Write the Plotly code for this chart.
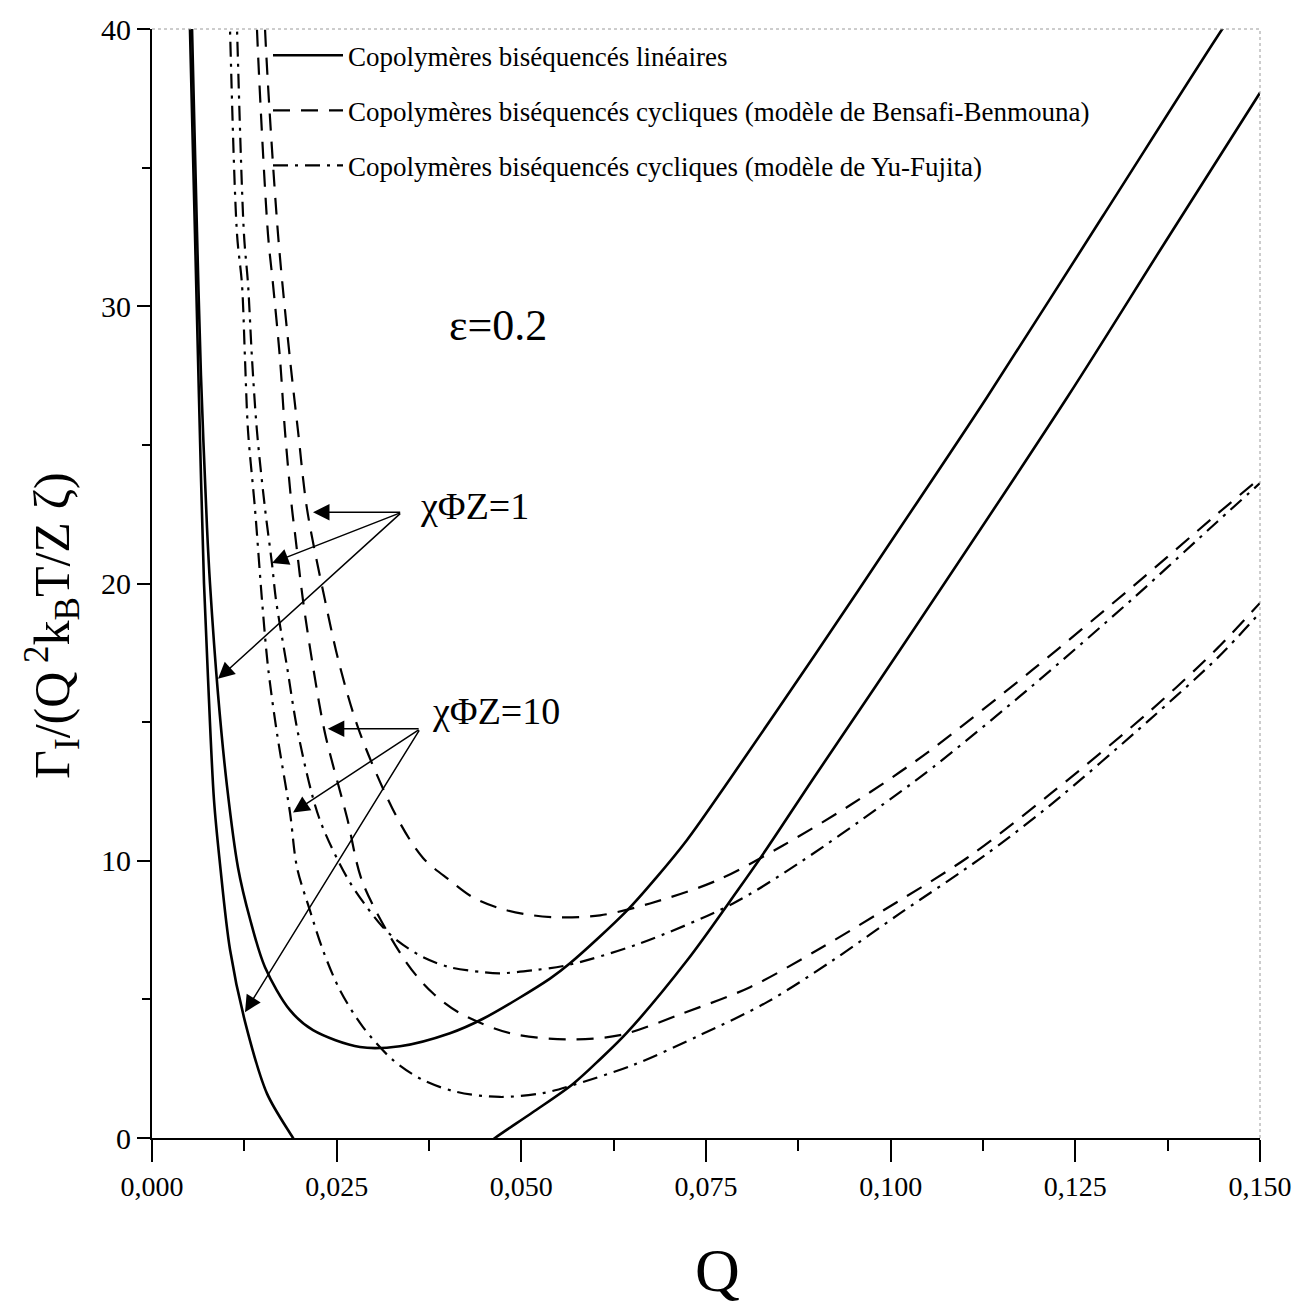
import plotly.graph_objects as go

# ---------------- data ----------------
# Linear diblock copolymers (solid)
q_lin_1 = [0.0050, 0.00542, 0.00609, 0.00663, 0.00745, 0.00785, 0.00894, 0.01015, 0.01164,
           0.01327, 0.01530, 0.01868, 0.02180, 0.02816, 0.03357, 0.04034, 0.04481, 0.05388,
           0.05659, 0.06430, 0.06830, 0.07243, 0.07825, 0.08980, 0.10126, 0.11300, 0.12860,
           0.14490, 0.14750]
g_lin_1 = [44.5, 40.0, 32.7, 27.5, 22.0, 20.0, 16.0, 12.7, 9.76,
           7.9, 6.16, 4.61, 3.89, 3.28, 3.31, 3.78, 4.3, 5.75,
           6.30, 8.2, 9.4, 10.75, 12.95, 17.45, 22.0, 26.7, 33.2,
           40.0, 41.0]

q_lin_10a = [0.0049, 0.00514, 0.00582, 0.00636, 0.00704, 0.00758, 0.00839, 0.00920,
             0.01056, 0.01259, 0.01557, 0.01909, 0.0200]
g_lin_10a = [43.0, 40.0, 32.6, 26.7, 20.0, 16.6, 12.2, 9.9,
             6.8, 4.2, 1.6, 0.0, -0.4]
q_lin_10b = [0.0455, 0.04643, 0.05150, 0.05699, 0.06070, 0.06430, 0.07243, 0.07920, 0.08326,
             0.08949, 0.10126, 0.12387, 0.13690, 0.15000]
g_lin_10b = [-0.2, 0.0, 0.92, 1.95, 2.85, 3.8, 6.4, 8.9, 10.45,
             12.95, 17.6, 26.7, 32.2, 37.7]

# Cyclic diblock copolymers, Bensafi-Benmouna model (dashed)
q_bb_1 = [0.0150, 0.01530, 0.01706, 0.01868, 0.01977, 0.02098, 0.02342, 0.02545, 0.02816,
          0.03317, 0.03669, 0.04034, 0.04346, 0.04711, 0.05158, 0.05523, 0.06065, 0.06742,
          0.07649, 0.08542, 0.09449, 0.10126, 0.10573, 0.11927, 0.13281, 0.14418, 0.15000]
g_bb_1 = [43.0, 40.0, 32.6, 28.1, 25.5, 22.7, 19.4, 17.0, 14.6,
          11.56, 10.1, 9.29, 8.68, 8.28, 8.03, 7.96, 8.03, 8.46,
          9.29, 10.55, 12.0, 13.2, 14.05, 16.9, 19.9, 22.5, 23.8]

q_bb_10 = [0.0139, 0.01421, 0.01570, 0.01638, 0.01733, 0.01800, 0.01895, 0.01936, 0.02044,
           0.02180, 0.02342, 0.02640, 0.02857, 0.03452, 0.03804, 0.04170, 0.04846, 0.05618,
           0.06336, 0.07189, 0.08096, 0.09003, 0.09896, 0.11033, 0.12157, 0.13511, 0.14418, 0.15000]
g_bb_10 = [43.0, 40.0, 32.6, 30.8, 28.1, 25.5, 22.7, 21.8, 19.4,
           17.0, 14.6, 11.56, 9.18, 6.3, 5.22, 4.5, 3.78, 3.56,
           3.71, 4.5, 5.44, 6.77, 8.2, 10.1, 12.4, 15.4, 17.65, 19.3]

# Cyclic diblock copolymers, Yu-Fujita model (dash-dot)
q_yf_1 = [0.0112, 0.01151, 0.01245, 0.01300, 0.01354, 0.01421, 0.01530, 0.01625, 0.01679,
          0.01828, 0.01977, 0.02261, 0.02640, 0.02911, 0.03127, 0.03317, 0.03669, 0.04034,
          0.04481, 0.04711, 0.05158, 0.05618, 0.06607, 0.07866, 0.08772, 0.09896, 0.10573,
          0.11927, 0.13281, 0.14418, 0.15000]
g_yf_1 = [43.0, 40.0, 32.6, 30.8, 28.1, 25.5, 22.7, 20.7, 19.4,
          17.0, 14.6, 11.56, 9.4, 8.32, 7.6, 7.13, 6.52, 6.16,
          5.98, 5.94, 6.05, 6.23, 7.02, 8.46, 9.94, 12.03, 13.37,
          16.33, 19.46, 22.22, 23.62]

q_yf_10 = [0.0103, 0.01056, 0.01151, 0.01218, 0.01259, 0.01300, 0.01394, 0.01489, 0.01570,
           0.01692, 0.01868, 0.01963, 0.02139, 0.02315, 0.02545, 0.02857, 0.03263, 0.03669,
           0.04129, 0.04711, 0.05293, 0.05699, 0.06512, 0.07419, 0.08326, 0.09219, 0.10126,
           0.11250, 0.12157, 0.13511, 0.14418, 0.15000]
g_yf_10 = [43.0, 40.0, 32.6, 30.8, 28.1, 25.5, 22.7, 19.4, 17.0,
           14.6, 11.74, 9.76, 8.2, 6.77, 5.33, 4.0, 2.81, 2.09,
           1.66, 1.48, 1.62, 1.91, 2.63, 3.71, 4.9, 6.41, 8.1,
           10.15, 12.0, 15.1, 17.3, 18.95]

legend_names = ["Copolymères biséquencés linéaires",
                "Copolymères biséquencés cycliques (modèle de Bensafi-Benmouna)",
                "Copolymères biséquencés cycliques (modèle de Yu-Fujita)"]

x_ticks = [0.0, 0.025, 0.05, 0.075, 0.1, 0.125, 0.15]
y_ticks = [0, 10, 20, 30, 40]

FONT = "Liberation Serif"
DASH = "17px,11px"
DASHDOT = "15px,7px,3px,7px"

fig = go.Figure()

def add(q, g, dash, width, name=None, group=None, show=False):
    fig.add_trace(go.Scatter(
        x=q, y=g, mode="lines", name=name, legendgroup=group, showlegend=show,
        line=dict(color="black", width=width, dash=dash, shape="spline", smoothing=0.9),
        hoverinfo="skip"))

add(q_lin_1, g_lin_1, "solid", 2.6, legend_names[0], "lin", True)
add(q_lin_10a, g_lin_10a, "solid", 2.6, group="lin")
add(q_lin_10b, g_lin_10b, "solid", 2.6, group="lin")
add(q_bb_1, g_bb_1, DASH, 2.2, legend_names[1], "bb", True)
add(q_bb_10, g_bb_10, DASH, 2.2, group="bb")
add(q_yf_1, g_yf_1, DASHDOT, 2.2, legend_names[2], "yf", True)
add(q_yf_10, g_yf_10, DASHDOT, 2.2, group="yf")

annotations = []
# arrows chiPhiZ = 1
tail1 = (0.0338, 22.57)
for tip in [(0.0218, 22.57), (0.01625, 20.74), (0.00894, 16.56)]:
    annotations.append(dict(x=tip[0], y=tip[1], ax=tail1[0], ay=tail1[1], xref="x", yref="y",
                            axref="x", ayref="y", text="", showarrow=True, arrowhead=2,
                            arrowsize=2.2, arrowwidth=1.5, arrowcolor="black", standoff=0))
tail10 = (0.0363, 14.76)
for tip in [(0.0238, 14.76), (0.01909, 11.74), (0.01259, 4.54)]:
    annotations.append(dict(x=tip[0], y=tip[1], ax=tail10[0], ay=tail10[1], xref="x", yref="y",
                            axref="x", ayref="y", text="", showarrow=True, arrowhead=2,
                            arrowsize=2.2, arrowwidth=1.5, arrowcolor="black", standoff=0))

annotations += [
    dict(x=0.0360, y=22.8, xref="x", yref="y", text="χΦZ=1", showarrow=False,
         xanchor="left", yanchor="middle", font=dict(family=FONT, size=38, color="black")),
    dict(x=0.0376, y=15.4, xref="x", yref="y", text="χΦZ=10", showarrow=False,
         xanchor="left", yanchor="middle", font=dict(family=FONT, size=38, color="black")),
    dict(x=0.0400, y=29.3, xref="x", yref="y", text="ε=0.2", showarrow=False,
         xanchor="left", yanchor="middle", font=dict(family=FONT, size=44, color="black")),
    dict(x=-0.090, y=0.462, xref="paper", yref="paper",
         text="Γ<sub>I</sub>/(Q<sup> 2</sup>k<sub>B</sub>T/Z ζ)", textangle=-90,
         showarrow=False, xanchor="center", yanchor="middle",
         font=dict(family=FONT, size=50, color="black")),
    dict(x=0.51, y=-0.119, xref="paper", yref="paper", text="Q", showarrow=False,
         xanchor="center", yanchor="middle", font=dict(family=FONT, size=62, color="black")),
]

shapes = [
    dict(type="line", xref="paper", yref="paper", x0=0, x1=1, y0=1, y1=1,
         line=dict(color="#9a9a9a", width=1, dash="dot")),
    dict(type="line", xref="paper", yref="paper", x0=1, x1=1, y0=0, y1=1,
         line=dict(color="#9a9a9a", width=1, dash="dot")),
]

fig.update_layout(
    width=1310, height=1309,
    margin=dict(l=152, r=50, t=27, b=171),
    paper_bgcolor="white", plot_bgcolor="white",
    separators=", ",
    font=dict(family=FONT, color="black"),
    showlegend=True,
    legend=dict(x=0.1047, y=0.998, xanchor="left", yanchor="top",
                bgcolor="rgba(0,0,0,0)", borderwidth=0,
                font=dict(family=FONT, size=27, color="black"),
                itemwidth=70, tracegroupgap=17, traceorder="grouped"),
    annotations=annotations,
    shapes=shapes,
    xaxis=dict(range=[0, 0.15], tickvals=x_ticks, tickformat=".3f",
               showline=True, linecolor="black", linewidth=2, mirror=False,
               ticks="outside", ticklen=22, tickwidth=1.5, tickcolor="black",
               minor=dict(dtick=0.0125, tick0=0, ticks="outside", ticklen=11,
                          tickwidth=1.5, tickcolor="black"),
               showgrid=False, zeroline=False,
               tickfont=dict(family=FONT, size=28, color="black")),
    yaxis=dict(range=[0, 40], tickvals=y_ticks, tickformat="d",
               showline=True, linecolor="black", linewidth=2, mirror=False,
               ticks="outside", ticklen=13, tickwidth=1.5, tickcolor="black",
               minor=dict(dtick=5, tick0=0, ticks="outside", ticklen=8,
                          tickwidth=1.5, tickcolor="black"),
               showgrid=False, zeroline=False,
               tickfont=dict(family=FONT, size=30, color="black")),
)

fig.write_html("out.html")
